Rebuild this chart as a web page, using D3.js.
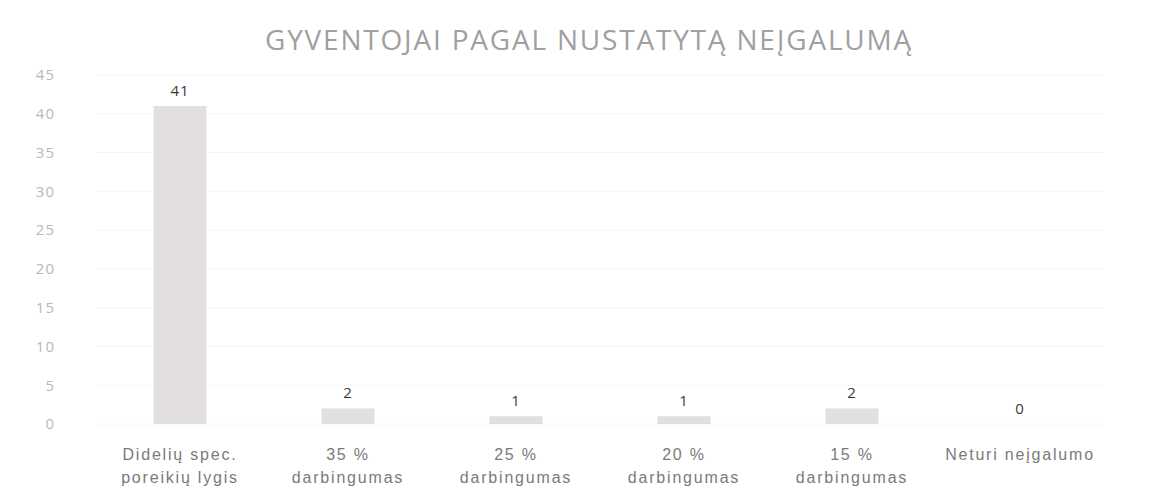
<!DOCTYPE html>
<html>
<head>
<meta charset="utf-8">
<script src="https://cdn.jsdelivr.net/npm/d3@7"></script>
<style>
  body { margin: 0; background: #fff; }
  svg { display: block; font-family: "Open Sans", sans-serif; }
</style>
</head>
<body>
<div id="chart"></div>
<script>
// chart data
const categories = [
    ["Didelių spec.", "poreikių lygis"],
    ["35 %", "darbingumas"],
    ["25 %", "darbingumas"],
    ["20 %", "darbingumas"],
    ["15 %", "darbingumas"],
    ["Neturi neįgalumo"]
];
const values = [41, 2, 1, 1, 2, 0];
const yTicks = [0, 5, 10, 15, 20, 25, 30, 35, 40, 45];
const title = "GYVENTOJAI PAGAL NUSTATYTĄ NEĮGALUMĄ";

const width = 1155, height = 497;
const margin = { top: 75, right: 51, bottom: 73, left: 96 };
const innerW = width - margin.left - margin.right;
const innerH = height - margin.top - margin.bottom;

const svg = d3.select("#chart").append("svg")
    .attr("width", width)
    .attr("height", height);

svg.append("text")
    .attr("x", 589)
    .attr("y", 50)
    .attr("text-anchor", "middle")
    .attr("font-size", 28)
    .attr("letter-spacing", 1.8)
    .attr("fill", "#a0a0a0")
    .text(title);

const g = svg.append("g")
    .attr("transform", `translate(${margin.left}, ${margin.top})`);

const x = d3.scaleBand()
    .domain(d3.range(categories.length))
    .range([0, innerW])
    .padding(0);

const y = d3.scaleLinear()
    .domain([0, 45])
    .range([innerH, 0]);

// faint gridlines
g.append("g")
    .selectAll("line")
    .data(yTicks)
    .enter()
    .append("line")
    .attr("x1", 0)
    .attr("x2", innerW)
    .attr("y1", d => y(d))
    .attr("y2", d => y(d))
    .attr("stroke", "#f6f6f6")
    .attr("stroke-width", 1);

const yAxis = d3.axisLeft(y).tickValues(yTicks).tickSize(0).tickPadding(0);
g.append("g")
    .attr("class", "axis y-axis")
    .attr("transform", "translate(-41, 0)")
    .call(yAxis)
    .call(s => s.select(".domain").remove())
    .call(s => s.selectAll("text")
        .attr("font-family", "Open Sans, sans-serif")
        .attr("font-size", 15)
        .attr("letter-spacing", 1)
        .attr("fill", "#b8b8b8"));

const barW = x.bandwidth() * 0.315;

g.selectAll(".bar")
    .data(values)
    .enter()
    .append("rect")
    .attr("class", "bar")
    .attr("x", (d, i) => x(i) + (x.bandwidth() - barW) / 2)
    .attr("width", barW)
    .attr("y", d => y(d))
    .attr("height", d => innerH - y(d))
    .attr("fill", "#e3dfe0");

g.selectAll(".value")
    .data(values)
    .enter()
    .append("text")
    .attr("class", "value")
    .attr("x", (d, i) => x(i) + x.bandwidth() / 2)
    .attr("y", d => y(d) - 10)
    .attr("text-anchor", "middle")
    .attr("font-size", 15)
    .attr("letter-spacing", 1)
    .attr("fill", "#3a3a3a")
    .text(d => d);

const xAxis = d3.axisBottom(x).tickSize(0).tickFormat("");
const xg = g.append("g")
    .attr("class", "axis x-axis")
    .attr("transform", `translate(0, ${innerH})`)
    .call(xAxis);
xg.select(".domain").remove();

xg.selectAll(".tick")
    .each(function (i) {
        const t = d3.select(this).append("text")
            .attr("text-anchor", "middle")
            .attr("font-size", 16)
            .attr("letter-spacing", 1.8)
            .attr("fill", "#7a7a7a")
            .attr("y", 36);
        categories[i].forEach((line, k) => {
            t.append("tspan")
                .attr("x", 0)
                .attr("dy", k === 0 ? 0 : 23)
                .text(line);
        });
    });
</script>
</body>
</html>
